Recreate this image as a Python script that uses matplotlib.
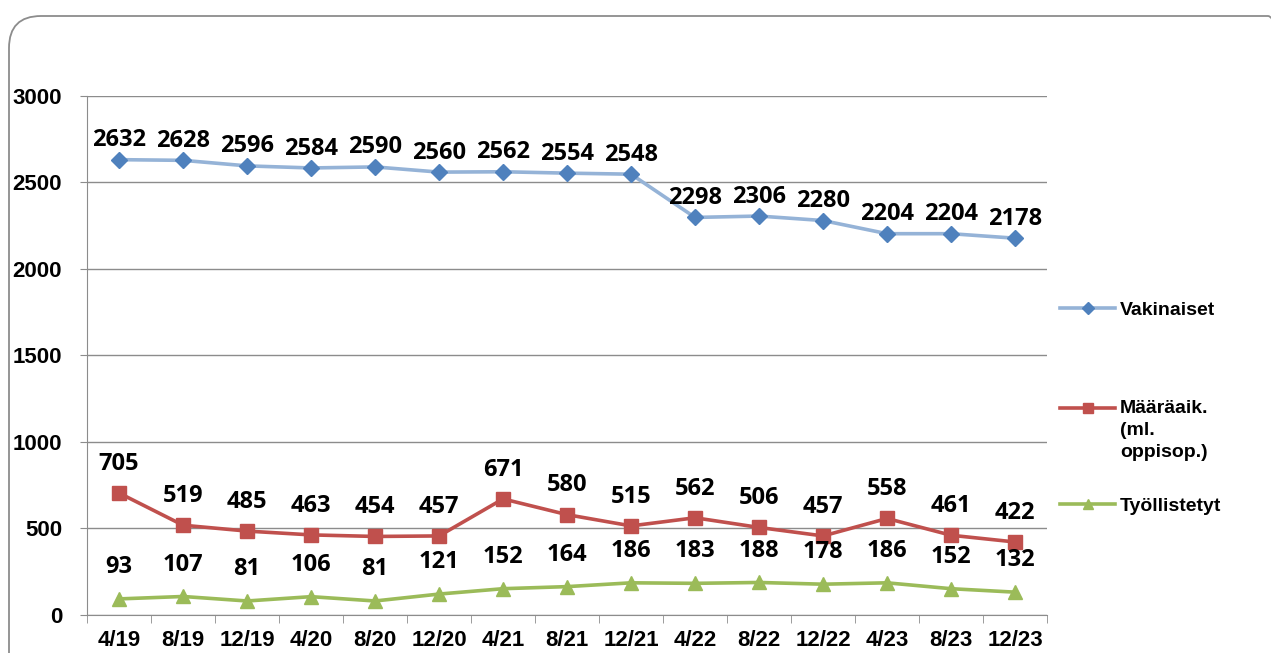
import matplotlib.pyplot as plt
from matplotlib.patches import FancyBboxPatch
from matplotlib.ticker import MultipleLocator, FixedLocator

periods = ["4/19", "8/19", "12/19", "4/20", "8/20", "12/20", "4/21", "8/21",
           "12/21", "4/22", "8/22", "12/22", "4/23", "8/23", "12/23"]
vakinaiset = [2632, 2628, 2596, 2584, 2590, 2560, 2562, 2554, 2548,
              2298, 2306, 2280, 2204, 2204, 2178]
maaraaik = [705, 519, 485, 463, 454, 457, 671, 580, 515, 562, 506, 457,
            558, 461, 422]
tyollistetyt = [93, 107, 81, 106, 81, 121, 152, 164, 186, 183, 188, 178,
                186, 152, 132]

plt.rcParams["font.family"] = ["Liberation Sans", "DejaVu Sans"]

fig = plt.figure(figsize=(12.71, 6.53), dpi=100)
ax = fig.add_axes([0.0685, 0.0582, 0.7553, 0.7948])

# rounded chart border (runs off the right and bottom edges), in inches
border = FancyBboxPatch((0.09, -1.0), 13.0 - 0.09, 6.37 + 1.0,
                        boxstyle="round,pad=0,rounding_size=0.32",
                        transform=fig.dpi_scale_trans, fill=False,
                        edgecolor="#8c8c8c", linewidth=1.3)
fig.patches.append(border)

x = list(range(len(periods)))

series = [
    ("Vakinaiset", vakinaiset, "#95b3d7", "#4f81bd", "D", 8, 14),
    ("\n\nMääräaik.\n(ml.\noppisop.)", maaraaik, "#c0504d", "#c0504d", "s", 10, 21),
    ("Työllistetyt", tyollistetyt, "#9bbb59", "#9bbb59", "^", 10, 23),
]

handles = []
for name, vals, lc, mc, mk, ms, off in series:
    h, = ax.plot(x, vals, color=lc, linewidth=2.6, marker=mk, markersize=ms,
                 markerfacecolor=mc, markeredgecolor=mc, label=name, zorder=3)
    handles.append(h)
    for xi, v in zip(x, vals):
        ax.annotate(str(v), (xi, v), xytext=(0, off), textcoords="offset points",
                    ha="center", va="center", fontsize=17, fontweight="bold",
                    family=["Open Sans", "DejaVu Sans"], color="black")

ax.set_xlim(-0.5, len(periods) - 0.5)
ax.set_ylim(0, 3000)
ax.yaxis.set_major_locator(MultipleLocator(500))
ax.grid(axis="y", color="#8c8c8c", linewidth=1)
ax.set_axisbelow(True)

ax.set_xticks(x)
ax.set_xticklabels(periods)
ax.xaxis.set_minor_locator(FixedLocator([i - 0.5 for i in range(len(periods) + 1)]))
ax.tick_params(axis="x", which="major", length=0, pad=11, labelsize=16)
ax.tick_params(axis="x", which="minor", length=6, color="#8c8c8c")
ax.tick_params(axis="y", length=5, color="#8c8c8c", pad=13, labelsize=16)
for lbl in ax.get_xticklabels() + ax.get_yticklabels():
    lbl.set_fontweight("bold")

for s in ["top", "right"]:
    ax.spines[s].set_visible(False)
for s in ["left", "bottom"]:
    ax.spines[s].set_color("#8c8c8c")

leg = fig.legend(handles=handles, loc="upper left",
                 bbox_to_anchor=(0.8206, 0.565), frameon=False,
                 labelspacing=1.85, handlelength=2.8, handletextpad=0.25,
                 markerscale=0.75, prop={"weight": "bold", "size": 14})
for t in leg.get_texts():
    t.set_linespacing(1.4)

fig.savefig("out.png", dpi=100)
